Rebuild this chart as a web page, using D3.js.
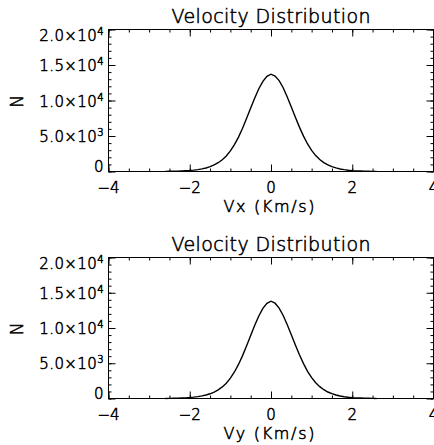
<!DOCTYPE html>
<html>
<head>
<meta charset="utf-8">
<script src="https://cdn.jsdelivr.net/npm/d3@7"></script>
<style>
  body { margin: 0; background: #fff; }
  text { font-family: "DejaVu Sans", sans-serif; font-weight: 200; fill: #000; stroke: #000; stroke-width: 0.55px; }
</style>
</head>
<body>
<div id="chart"></div>
<script>
// velocity bins (Km/s)
const velocity = [-2.6, -2.5, -2.4, -2.3, -2.2, -2.1, -2.0, -1.9, -1.8, -1.7, -1.6, -1.5, -1.4, -1.3,
  -1.2, -1.1, -1.0, -0.9, -0.8, -0.7, -0.6, -0.5, -0.4, -0.3, -0.2, -0.1, 0.0,
  0.1, 0.2, 0.3, 0.4, 0.5, 0.6, 0.7, 0.8, 0.9, 1.0, 1.1, 1.2, 1.3, 1.4, 1.5, 1.6,
  1.7, 1.8, 1.9, 2.0, 2.1, 2.2, 2.3, 2.4, 2.5, 2.6];

const vxCounts = [15, 25, 35, 50, 70, 100, 140, 195, 270, 370, 500, 680, 920, 1240,
  1650, 2180, 2900, 3780, 4850, 6100, 7500, 8950, 10350, 11650, 12700, 13400, 13700,
  13450, 12800, 11800, 10500, 9100, 7650, 6250, 4980, 3880, 2980, 2240, 1690, 1260, 930, 690, 500,
  360, 260, 185, 130, 95, 68, 48, 34, 22, 12];

const vyCounts = [10, 20, 32, 46, 66, 95, 135, 190, 265, 365, 495, 670, 910, 1230,
  1640, 2170, 2880, 3760, 4830, 6080, 7480, 8950, 10380, 11700, 12780, 13500, 13800,
  13520, 12820, 11780, 10450, 9050, 7600, 6200, 4950, 3860, 2960, 2230, 1680, 1250, 920, 680, 495,
  355, 255, 180, 128, 92, 66, 46, 32, 20, 10];

const xTicks = [-4, -2, 0, 2, 4];
const yTicks = [0, 5000, 10000, 15000, 20000];
const yTickLabels = [["0", ""], ["5.0\u00d710", "3"], ["1.0\u00d710", "4"], ["1.5\u00d710", "4"], ["2.0\u00d710", "4"]];

const panels = [
  { title: "Velocity Distribution", xLabel: "Vx (Km/s)", counts: vxCounts, top: 29.5, bottom: 171.5 },
  { title: "Velocity Distribution", xLabel: "Vy (Km/s)", counts: vyCounts, top: 257.5, bottom: 398.5 }
];

const width = 434, height = 445;
const left = 108.5, right = 433.5;

const svg = d3.select("#chart").append("svg")
  .attr("width", width)
  .attr("height", height);

const x = d3.scaleLinear().domain([-4, 4]).range([left, right]);

panels.forEach(p => {
  const y = d3.scaleLinear().domain([0, 20000]).range([p.bottom, p.top]);
  const g = svg.append("g");

  // ticks, all pointing inward
  const axes = [
    [d3.axisBottom(x).tickValues(d3.range(-4, 4.01, 0.5)).tickSize(-3), p.bottom, "x"],
    [d3.axisBottom(x).tickValues(xTicks).tickSize(-7), p.bottom, "x"],
    [d3.axisTop(x).tickValues(d3.range(-4, 4.01, 0.5)).tickSize(-3), p.top, "x"],
    [d3.axisTop(x).tickValues(xTicks).tickSize(-7), p.top, "x"],
    [d3.axisLeft(y).tickValues(d3.range(0, 20001, 1000)).tickSize(-3), left, "y"],
    [d3.axisLeft(y).tickValues(yTicks).tickSize(-7), left, "y"],
    [d3.axisRight(y).tickValues(d3.range(0, 20001, 1000)).tickSize(-3), right, "y"],
    [d3.axisRight(y).tickValues(yTicks).tickSize(-7), right, "y"]
  ];
  axes.forEach(([ax, pos, dir]) => {
    g.append("g")
      .attr("transform", dir === "x" ? `translate(0,${pos})` : `translate(${pos},0)`)
      .call(ax.tickFormat(""))
      .call(a => a.select(".domain").remove())
      .call(a => a.selectAll("line").attr("stroke", "#000"));
  });

  // frame
  g.append("rect")
    .attr("x", left).attr("y", p.top)
    .attr("width", right - left).attr("height", p.bottom - p.top)
    .attr("fill", "none").attr("stroke", "#000").attr("stroke-width", 1);

  // x tick labels
  g.selectAll(".xl").data(xTicks).join("text")
    .attr("x", d => x(d))
    .attr("y", p.bottom + 21.5)
    .attr("text-anchor", "middle")
    .attr("font-size", 15)
    .text(d => d < 0 ? "\u2212" + Math.abs(d) : d);

  // y tick labels
  const yl = g.selectAll(".yl").data(yTicks).join("text")
    .attr("x", 104)
    .attr("y", d => Math.min(Math.max(y(d) + 6, p.top + 11), p.bottom + 0.5))
    .attr("text-anchor", "end")
    .attr("font-size", 15)
    .attr("letter-spacing", 0.4);
  yl.append("tspan").text((d, i) => yTickLabels[i][0]);
  yl.append("tspan")
    .attr("font-size", 10)
    .attr("dy", -6)
    .text((d, i) => yTickLabels[i][1]);

  // axis titles
  g.append("text")
    .attr("transform", `translate(23,${(p.top + p.bottom) / 2 + 1}) rotate(-90)`)
    .attr("text-anchor", "middle")
    .attr("font-size", 17)
    .text("N");

  g.append("text")
    .attr("x", (left + right) / 2 - 2)
    .attr("y", p.bottom + 40)
    .attr("text-anchor", "middle")
    .attr("font-size", 16)
    .attr("textLength", 91)
    .attr("lengthAdjust", "spacing")
    .text(p.xLabel);

  g.append("text")
    .attr("x", (left + right) / 2)
    .attr("y", p.top - 6.5)
    .attr("text-anchor", "middle")
    .attr("font-size", 19)
    .attr("textLength", 199)
    .attr("lengthAdjust", "spacing")
    .text(p.title);

  // distribution curve
  const line = d3.line()
    .x((d, i) => x(velocity[i]))
    .y(d => y(d));

  g.append("path")
    .datum(p.counts)
    .attr("fill", "none")
    .attr("stroke", "#000")
    .attr("stroke-width", 1.4)
    .attr("d", line);
});
</script>
</body>
</html>
